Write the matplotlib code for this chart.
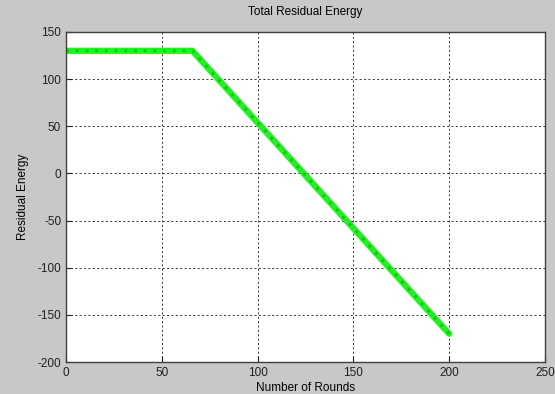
import matplotlib.pyplot as plt
import numpy as np

plt.rcParams['axes.unicode_minus'] = False
plt.rcParams['font.family'] = ['Liberation Sans', 'DejaVu Sans']

# breakpoints of the residual energy curve
rounds = [0, 66, 200]
energy = [130, 130, -170]

xticks = [0, 50, 100, 150, 200, 250]
yticks = [-200, -150, -100, -50, 0, 50, 100, 150]

fig = plt.figure(figsize=(5.55, 3.94), dpi=100)
fig.patch.set_facecolor('#c8c8c8')
ax = fig.add_axes([0.119, 0.081, 0.863, 0.838])
ax.set_facecolor('white')

ax.plot(rounds, energy, color='#22f022', linewidth=4.5, solid_capstyle='round')
ax.plot(rounds, energy, color='#00d000', linewidth=2, linestyle=(0, (1, 2.5)))

ax.set_xlim(0, 250)
ax.set_ylim(-200, 150)
ax.set_xticks(xticks)
ax.set_yticks(yticks)
ax.grid(True, color='#303030', linestyle=(0, (2, 2.5)), linewidth=0.7)
ax.tick_params(direction='in', labelsize=8.5, length=4, colors='#202020')
for s in ax.spines.values():
    s.set_color('#404040')
    s.set_linewidth(1)

ax.set_title('Total Residual Energy', fontsize=8.5, pad=12)
ax.set_xlabel('Number of Rounds', fontsize=8.5, labelpad=2)
ax.set_ylabel('Residual Energy', fontsize=8.5, labelpad=6)

fig.savefig('out.png', dpi=100, facecolor=fig.get_facecolor())
